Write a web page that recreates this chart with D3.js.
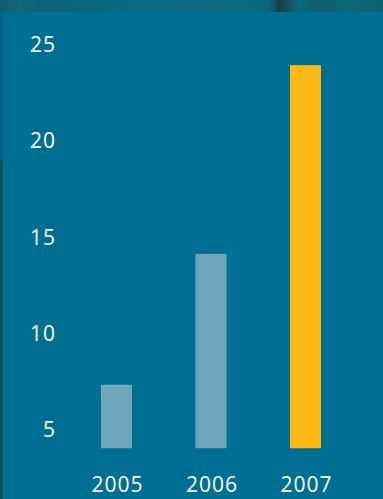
<!DOCTYPE html>
<html><head><meta charset="utf-8">
<script src="https://cdn.jsdelivr.net/npm/d3@7"></script>
<style>html,body{margin:0;padding:0;background:#006f91;overflow:hidden}</style>
</head><body>
<script>
const years = ["2005", "2006", "2007"];
const values = [7.3, 14.1, 23.9];
const tickValues = [5, 10, 15, 20, 25];
const barColors = ["#6fa6ba", "#6fa6ba", "#fdb815"];

const W = 383, H = 499;
const svg = d3.select("body").append("svg").attr("width", W).attr("height", H);
svg.append("rect").attr("width", W).attr("height", H).attr("fill", "#006f91");

// decorative top strip
const g = svg.append("defs").append("linearGradient").attr("id", "strip");
[[0,"#0b5e70"],[0.05,"#116a7c"],[0.1,"#0a6276"],[0.3,"#0a6a80"],[0.5,"#0d6c82"],[0.7,"#0a6a7d"],[0.73,"#153e44"],[0.78,"#0a6a7e"],[0.85,"#0f5c6c"],[0.9,"#0b6a7c"],[1,"#0d5f70"]]
  .forEach(([o,c]) => g.append("stop").attr("offset", o).attr("stop-color", c));
svg.append("rect").attr("width", W).attr("height", 12).attr("fill", "url(#strip)");
svg.append("rect").attr("x", 0).attr("y", 12).attr("width", 3).attr("height", 148).attr("fill", "#006582");
svg.append("rect").attr("x", 0).attr("y", 160).attr("width", 3).attr("height", H - 160).attr("fill", "#004e5e");

const y = d3.scaleLinear().domain([4, 25]).range([448.25, 44]);
const x = d3.scaleBand().domain(years).range([69.25, 352.75]).paddingInner(0.672).paddingOuter(0.336);

svg.selectAll("rect.bar").data(values).enter().append("rect")
  .attr("class", "bar")
  .attr("x", (d, i) => x(years[i]))
  .attr("width", x.bandwidth())
  .attr("y", d => y(d))
  .attr("height", d => y(4) - y(d))
  .attr("fill", (d, i) => barColors[i]);

const yAxis = svg.append("g").attr("transform", "translate(56,0)")
  .call(d3.axisLeft(y).tickValues(tickValues).tickSize(0).tickPadding(0));
yAxis.select(".domain").remove();
yAxis.selectAll("text").attr("fill", "#fff").attr("font-family", "Open Sans")
  .attr("font-size", 21).attr("letter-spacing", 1).attr("dy", "0.36em");

const xAxis = svg.append("g").attr("transform", "translate(1,477)")
  .call(d3.axisBottom(x).tickSize(0).tickPadding(0));
xAxis.select(".domain").remove();
xAxis.selectAll("text").attr("fill", "#fff").attr("font-family", "Open Sans")
  .attr("font-size", 21).attr("letter-spacing", 1).attr("dy", "0.71em");
</script>
</body></html>
